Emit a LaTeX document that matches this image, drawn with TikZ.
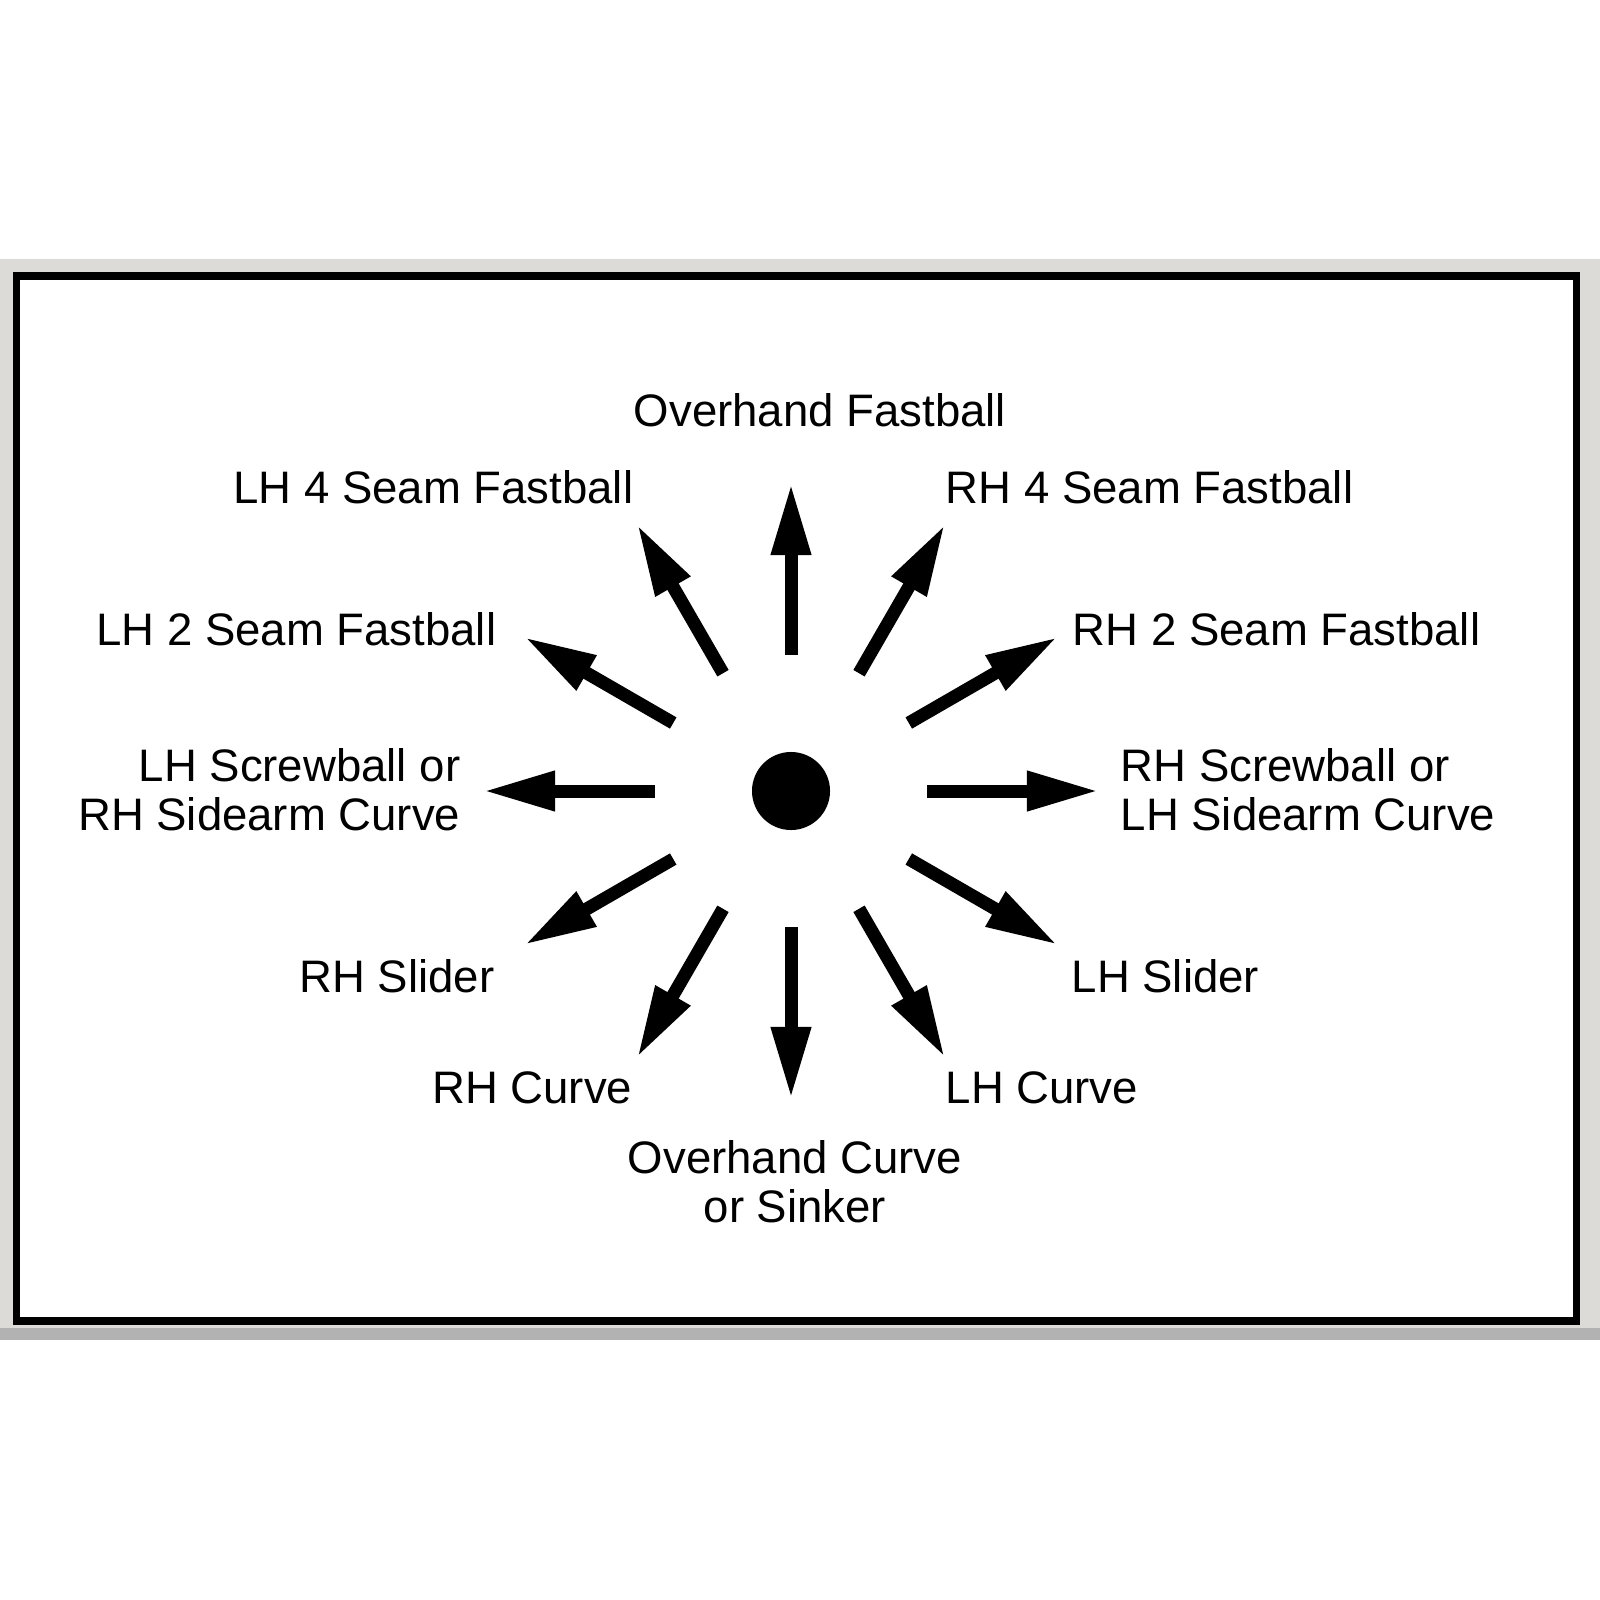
\documentclass[tikz,border=0pt]{standalone}
\usepackage{fontspec}
\setmainfont{Liberation Sans}
\usetikzlibrary{arrows.meta}
\definecolor{bandgray}{RGB}{221,219,215}
\definecolor{edgegray}{RGB}{178,178,178}
\tikzstyle{pitch}=[line width=0.13cm, -{Triangle[length=0.72cm, width=0.37cm]}]
\tikzstyle{pitchname}=[inner sep=0pt, font=\fontsize{12.95}{13.7}\selectfont]

\begin{document}
\begin{tikzpicture}[x=0.01cm, y=-0.01cm]
    \useasboundingbox (0,0) rectangle (1600,1600);
    \fill[white] (0,0) rectangle (1600,1600);
    \fill[bandgray] (0,259) rectangle (1600,1340);
    \fill[edgegray] (0,1328) rectangle (1600,1340);
    \draw[line width=0.075cm, fill=white] (16.5,276) rectangle (1576.5,1321);
    \node[circle, fill, inner sep=0pt, minimum size=0.78cm] (ball) at (791,791) {};
    \foreach \a in {0,30,...,330} {
        \coordinate (from\a) at ([shift={(\a:136)}]ball.center);
        \coordinate (to\a) at ([shift={(\a:308)}]ball.center);
        \draw[pitch] (from\a) -- (to\a);
    }
    \node[pitchname, anchor=base] (ohfast) at (820,426) {Overhand Fastball};
    \node[pitchname, anchor=base east] (lhfour) at (634,503) {LH 4 Seam Fastball};
    \node[pitchname, anchor=base west] (rhfour) at (945,503) {RH 4 Seam Fastball};
    \node[pitchname, anchor=base east] (lhtwo) at (497,645) {LH 2 Seam Fastball};
    \node[pitchname, anchor=base west] (rhtwo) at (1072,645) {RH 2 Seam Fastball};
    \node[pitchname, anchor=base east, align=right] (lhscrew) at (461,830) {LH Screwball or\\RH Sidearm Curve};
    \node[pitchname, anchor=base west, align=left] (rhscrew) at (1120,830) {RH Screwball or\\LH Sidearm Curve};
    \node[pitchname, anchor=base east] (rhslider) at (495,992) {RH Slider};
    \node[pitchname, anchor=base west] (lhslider) at (1071,992) {LH Slider};
    \node[pitchname, anchor=base east] (rhcurve) at (633,1103) {RH Curve};
    \node[pitchname, anchor=base west] (lhcurve) at (945,1103) {LH Curve};
    \node[pitchname, anchor=base, align=center] (ohcurve) at (795,1222) {Overhand Curve\\or Sinker};
\end{tikzpicture}
\end{document}
